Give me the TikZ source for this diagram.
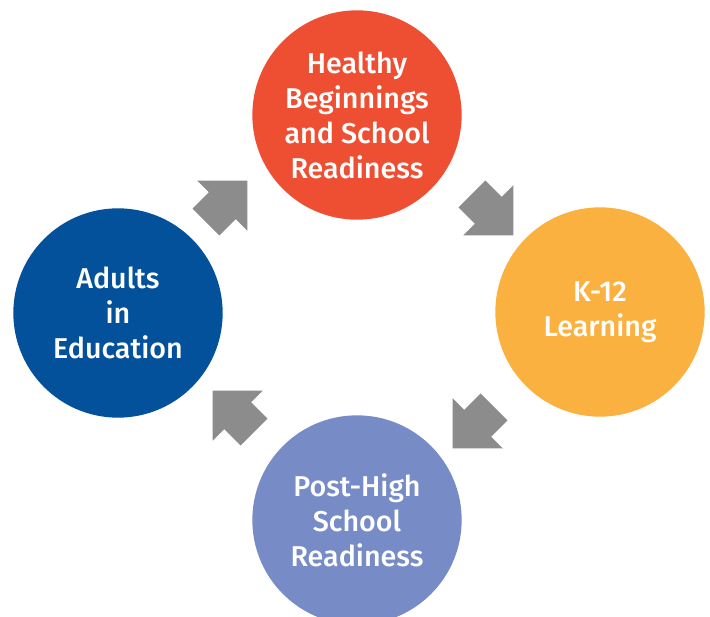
\documentclass[tikz,border=0pt]{standalone}
\usepackage{fontspec}
\newfontfamily\labelfont{Fira Sans}[UprightFont={* Medium}]
\usetikzlibrary{shapes.arrows}

\definecolor{hbred}{HTML}{EE4F33}
\definecolor{kyellow}{HTML}{FBB13F}
\definecolor{adblue}{HTML}{03519B}
\definecolor{phblue}{HTML}{778CC6}
\definecolor{arrgray}{HTML}{8C8C8C}

\begin{document}
\begin{tikzpicture}[
    x=0.75pt, y=-0.75pt,
    stage/.style={circle, minimum size=157pt, inner sep=0pt, text=white,
        align=center, font=\labelfont\fontsize{21.5}{26.2}\selectfont},
    flow/.style={single arrow, fill=arrgray, draw=none, inner xsep=0pt,
        inner ysep=14pt, minimum height=44pt,
        single arrow head extend=12.5pt, single arrow tip angle=90}
]

\useasboundingbox (0,0) rectangle (710,617);

% --- Stages ---
\node[stage, fill=hbred] (hbsr) at (357,115) {Healthy\\Beginnings\\and School\\Readiness};
\node[stage, fill=kyellow] (k12) at (600,312) {K-12\\Learning};
\node[stage, fill=phblue] (phsr) at (357,520) {Post-High\\School\\Readiness};
\node[stage, fill=adblue] (adults) at (118,313) {Adults\\in\\Education};

% --- Arrows between stages ---
\node[flow, rotate=45] (a1) at (220,208) {};
\node[flow, rotate=-45] (a2) at (486,208) {};
\node[flow, rotate=-135] (a3) at (480,421) {};
\node[flow, rotate=135] (a4) at (240,418) {};

\end{tikzpicture}
\end{document}
